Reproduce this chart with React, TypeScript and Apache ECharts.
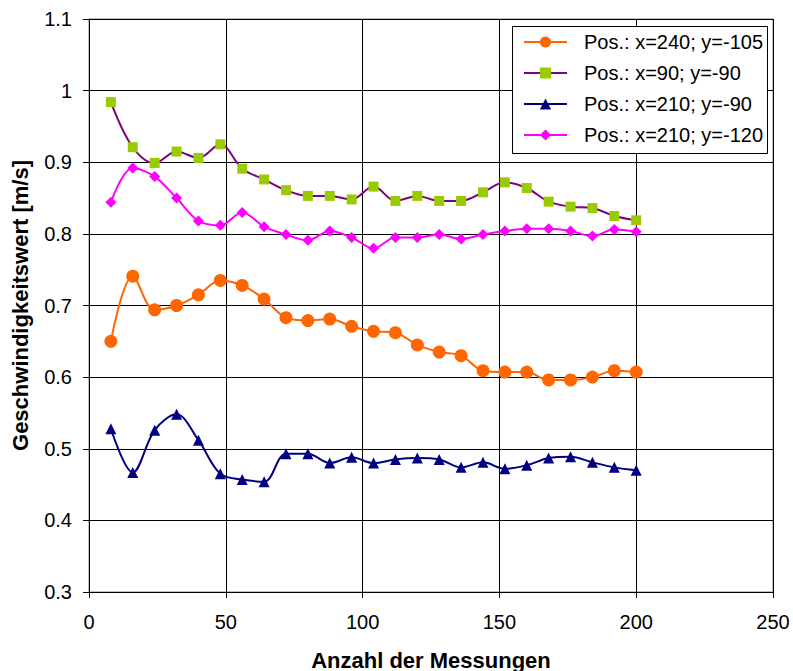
import React, { useEffect, useRef } from "react";
import * as echarts from "echarts";

const measurements = [8, 16, 24, 32, 40, 48, 56, 64, 72, 80, 88, 96, 104, 112, 120, 128, 136, 144, 152, 160, 168, 176, 184, 192, 200];

const seriesNames = [
  "Pos.: x=240; y=-105",
  "Pos.: x=90; y=-90",
  "Pos.: x=210; y=-90",
  "Pos.: x=210; y=-120",
];

const pos240_105 = [0.650, 0.741, 0.694, 0.700, 0.715, 0.735, 0.728, 0.709, 0.683, 0.679, 0.681, 0.671, 0.664, 0.662, 0.645, 0.635, 0.630, 0.609, 0.607, 0.607, 0.596, 0.596, 0.600, 0.609, 0.607];
const pos90_90 = [0.984, 0.921, 0.899, 0.915, 0.906, 0.925, 0.891, 0.876, 0.861, 0.853, 0.853, 0.848, 0.866, 0.846, 0.853, 0.846, 0.846, 0.858, 0.872, 0.864, 0.845, 0.838, 0.836, 0.825, 0.819];
const pos210_90 = [0.528, 0.467, 0.526, 0.548, 0.512, 0.465, 0.457, 0.454, 0.493, 0.493, 0.480, 0.488, 0.480, 0.485, 0.487, 0.485, 0.474, 0.481, 0.472, 0.477, 0.487, 0.489, 0.481, 0.474, 0.470];
const pos210_120 = [0.844, 0.892, 0.880, 0.850, 0.818, 0.812, 0.830, 0.810, 0.799, 0.791, 0.804, 0.795, 0.780, 0.795, 0.795, 0.799, 0.793, 0.799, 0.804, 0.807, 0.807, 0.804, 0.797, 0.806, 0.803];

const xTitle = "Anzahl der Messungen";
const yTitle = "Geschwindigkeitswert [m/s]";

const FONT = "'Liberation Sans', Arial, sans-serif";

function pairs(values: number[]) {
  return measurements.map((x, i) => [x, values[i]]);
}

export default function App() {
  const ref = useRef<HTMLDivElement>(null);

  useEffect(() => {
    if (!ref.current) return;
    const chart = echarts.init(ref.current, undefined, { renderer: "svg" });

    const mk = (
      name: string,
      values: number[],
      lineColor: string,
      markerColor: string,
      symbol: string,
      symbolSize: number
    ) => ({
      name,
      type: "line",
      data: pairs(values),
      smooth: 0.35,
      symbol,
      symbolSize,
      showAllSymbol: true,
      lineStyle: { color: lineColor, width: 2 },
      itemStyle: { color: markerColor, borderWidth: 0 },
      emphasis: { disabled: true },
      z: 3,
    });

    chart.setOption({
      animation: false,
      backgroundColor: "#ffffff",
      grid: {
        left: 89,
        right: 20,
        top: 19,
        bottom: 79,
        show: true,
        borderColor: "#808080",
        borderWidth: 1,
        containLabel: false,
        outerBoundsMode: "none",
      },
      graphic: [
        {
          type: "rect",
          z: 5,
          shape: { x: 512.5, y: 26.5, width: 255, height: 127 },
          style: { fill: "#ffffff", stroke: "#000000", lineWidth: 1 },
        },
      ],
      legend: {
        show: true,
        orient: "vertical",
        left: 523,
        top: 32,
        padding: 0,
        itemWidth: 43,
        itemHeight: 14,
        itemGap: 11,
        z: 10,
        textStyle: {
          fontFamily: FONT,
          fontSize: 20,
          color: "#000000",
          padding: [0, 0, 0, 12],
        },
        data: seriesNames,
      },
      xAxis: {
        type: "value",
        min: 0,
        max: 250,
        interval: 50,
        name: xTitle,
        nameLocation: "middle",
        nameGap: 57,
        nameMoveOverlap: false,
        nameTextStyle: {
          fontFamily: FONT,
          fontSize: 22,
          fontWeight: "bold",
          color: "#000000",
        },
        axisLine: { show: true, onZero: false, lineStyle: { color: "#000000", width: 1 } },
        axisTick: { show: true, length: 6, inside: false, lineStyle: { color: "#000000" } },
        axisLabel: {
          fontFamily: FONT,
          fontSize: 20,
          color: "#000000",
          margin: 20,
        },
        splitLine: { show: true, lineStyle: { color: "#000000", width: 1 } },
      },
      yAxis: {
        type: "value",
        min: 0.3,
        max: 1.1,
        interval: 0.1,
        name: yTitle,
        nameLocation: "middle",
        nameGap: 58,
        nameMoveOverlap: false,
        nameTextStyle: {
          fontFamily: FONT,
          fontSize: 22,
          fontWeight: "bold",
          color: "#000000",
        },
        axisLine: { show: true, onZero: false, lineStyle: { color: "#000000", width: 1 } },
        axisTick: { show: true, length: 6, inside: false, lineStyle: { color: "#000000" } },
        axisLabel: {
          fontFamily: FONT,
          fontSize: 20,
          color: "#000000",
          margin: 17,
          formatter: (v: number) => String(parseFloat(v.toFixed(1))),
        },
        splitLine: { show: true, lineStyle: { color: "#000000", width: 1 } },
      },
      series: [
        mk(seriesNames[0], pos240_105, "#FF6600", "#FF6600", "circle", 13),
        mk(seriesNames[1], pos90_90, "#800080", "#99CC00", "rect", 10),
        mk(seriesNames[2], pos210_90, "#000080", "#000080", "triangle", 11),
        mk(seriesNames[3], pos210_120, "#FF00FF", "#FF00FF", "diamond", 11),
      ],
    });

    return () => chart.dispose();
  }, []);

  return (
    <div
      ref={ref}
      style={{ position: "fixed", left: 0, top: 0, width: 793, height: 671, background: "#ffffff" }}
    />
  );
}
